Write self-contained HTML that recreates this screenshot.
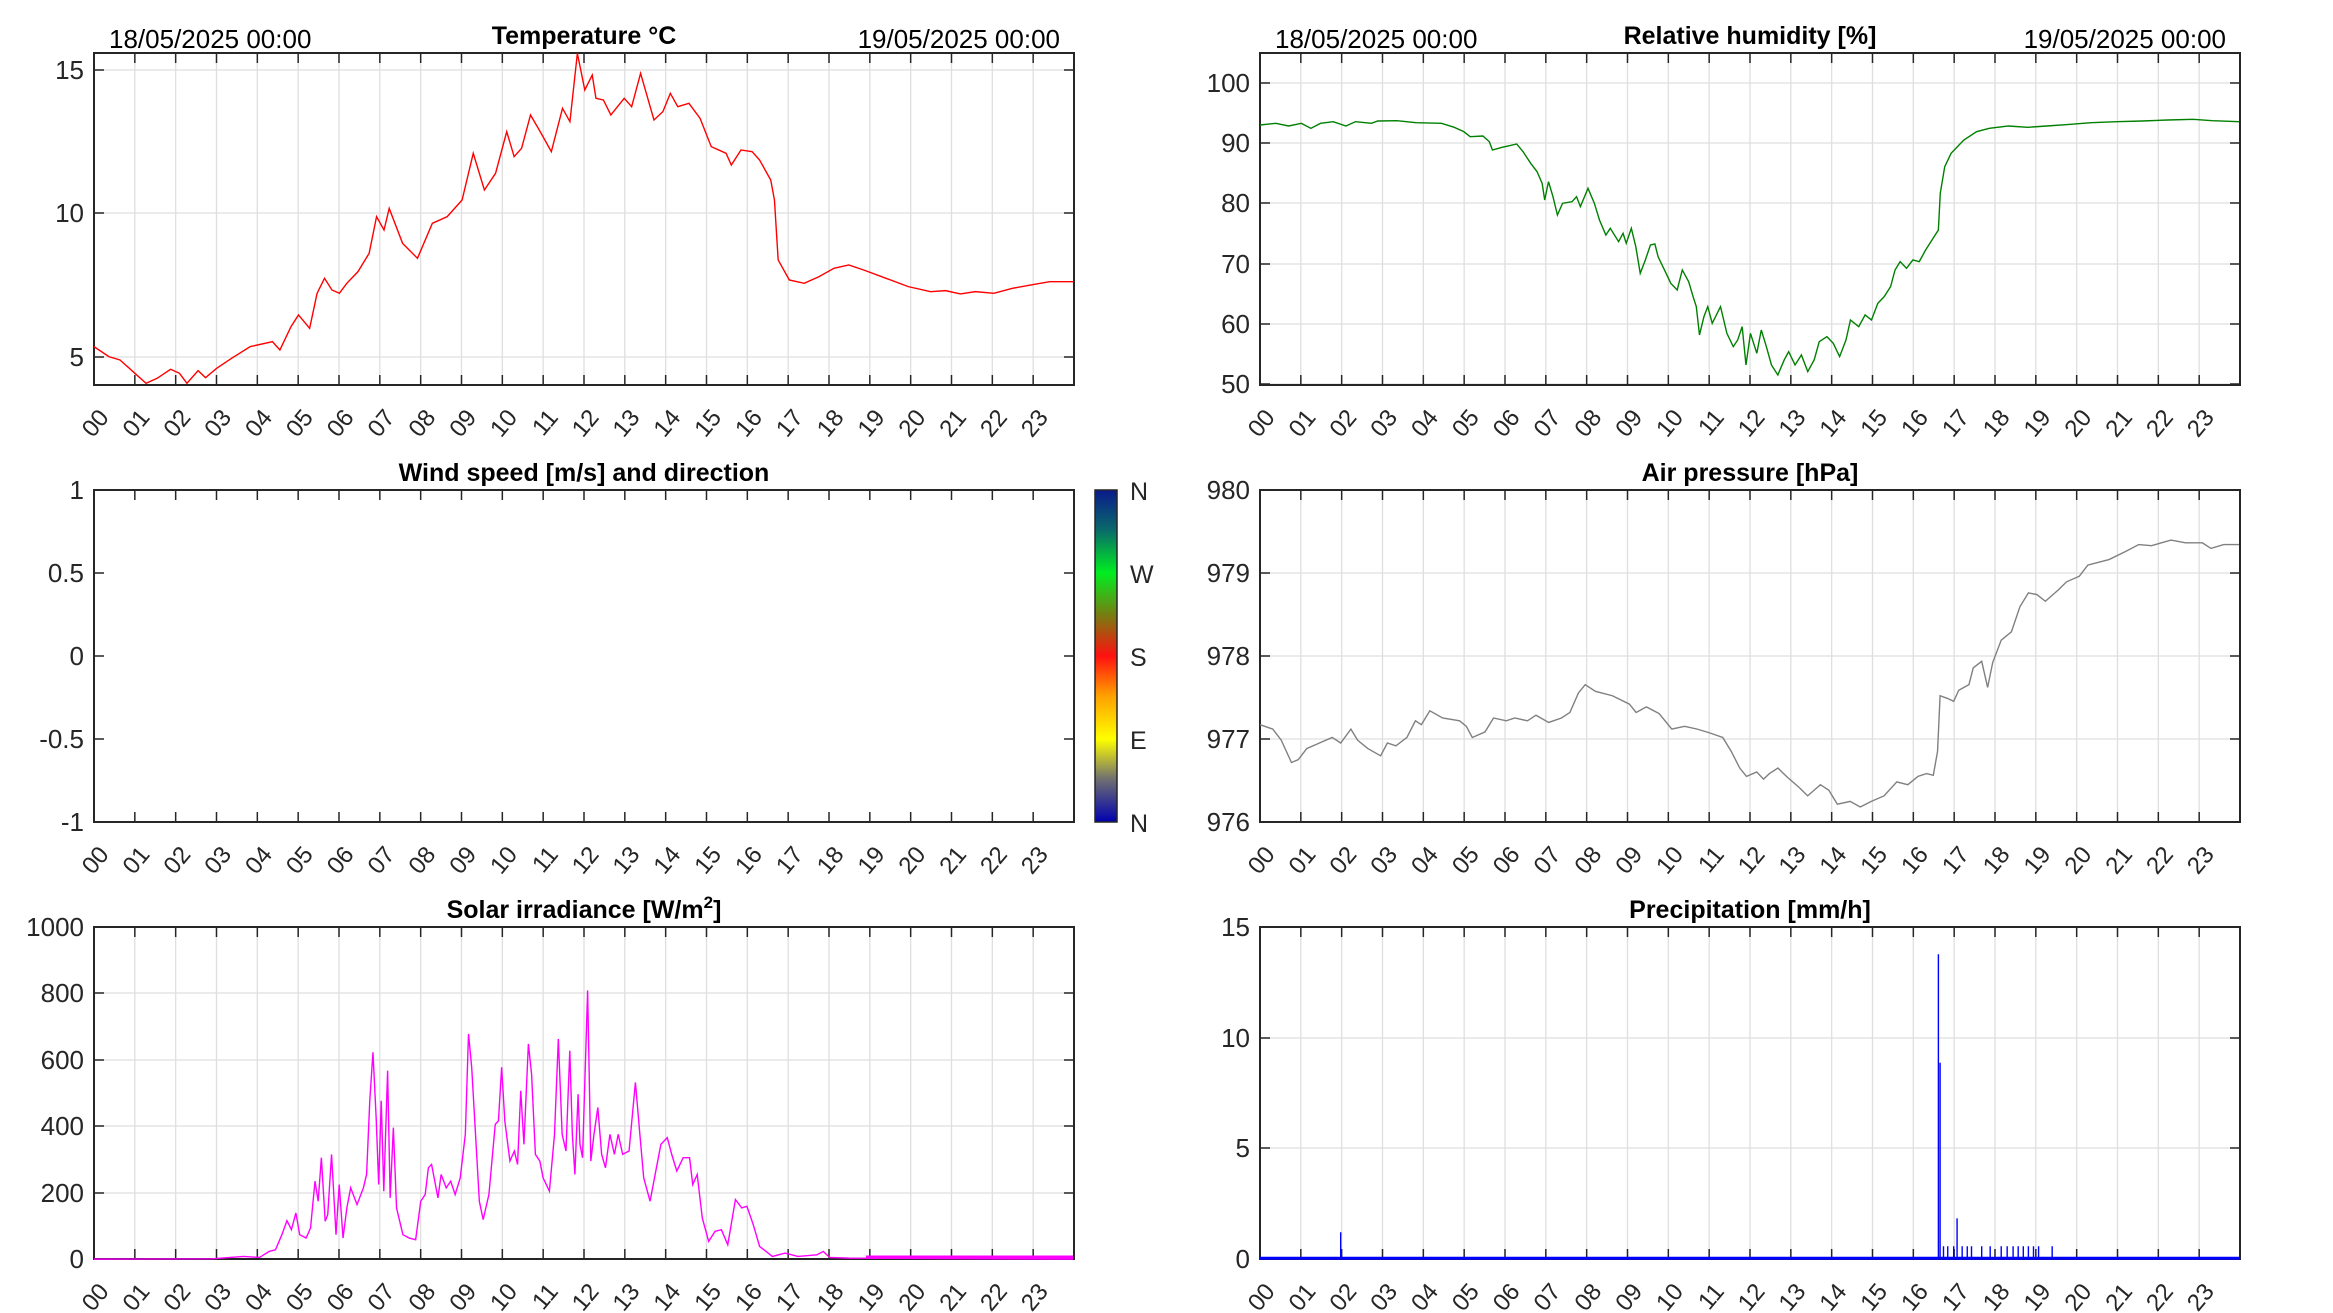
<!DOCTYPE html>
<html><head><meta charset="utf-8"><style>
body{margin:0;background:#fff}
svg{display:block;font-family:"Liberation Sans",Arial,sans-serif}
</style></head><body>
<svg id="s" width="2333" height="1313" viewBox="0 0 2333 1313" xmlns="http://www.w3.org/2000/svg">
<defs>
<linearGradient id="cb" x1="0" y1="0" x2="0" y2="1">
<stop offset="0" stop-color="#0a1a8c"/>
<stop offset="0.12" stop-color="#0a6a6a"/>
<stop offset="0.25" stop-color="#00ee20"/>
<stop offset="0.38" stop-color="#7a7a10"/>
<stop offset="0.5" stop-color="#ff1010"/>
<stop offset="0.62" stop-color="#ffa000"/>
<stop offset="0.75" stop-color="#ffff00"/>
<stop offset="0.87" stop-color="#707070"/>
<stop offset="1" stop-color="#0000b0"/>
</linearGradient>
</defs>
<g id="root"></g>
<g fill="none" stroke-width="1.4">
<polyline vector-effect="non-scaling-stroke" stroke="#ff0000" transform="matrix(0.7437 0 0 0.3333 1 0)" points="125,1040 145,1070 160,1080 180,1120 195,1150 210,1135 228,1108 240,1120 250,1150 265,1112 275,1133 290,1105 310,1075 335,1040 365,1025 375,1050 390,980 400,945 415,985 425,880 435,835 445,870 455,880 465,850 480,815 495,760 505,650 515,690 522,625 540,730 560,775 580,670 600,650 620,600 635,460 650,570 665,520 680,395 690,470 700,445 712,345 725,395 740,455 755,325 765,365 775,160 785,270 795,225 800,295 810,300 820,345 838,295 848,320 860,220 878,360 890,335 900,280 910,320 925,310 940,355 955,440 975,460 982,495 995,450 1010,455 1020,480 1035,540 1040,600 1045,780 1060,840 1080,850 1100,830 1120,805 1140,795 1160,810 1190,835 1220,860 1250,875 1270,872 1290,882 1310,875 1335,880 1360,865 1385,855 1410,845 1442,845"/>
<polyline vector-effect="non-scaling-stroke" stroke="#008000" transform="matrix(0.637 0 0 0.3333 1250.4 40)" points="15,255 40,250 60,258 80,250 95,265 110,250 130,245 150,258 165,245 190,250 200,243 230,242 260,248 300,250 320,262 335,275 345,290 365,288 375,305 380,330 395,322 405,318 418,312 428,335 440,370 450,395 458,430 462,480 468,425 475,470 482,525 490,490 505,485 512,470 518,500 530,445 540,490 548,540 558,585 565,565 578,605 585,580 590,610 598,565 605,620 612,700 620,660 628,615 635,612 640,650 650,690 660,730 670,750 678,690 688,725 695,770 700,800 705,885 712,830 718,800 725,850 738,800 748,880 758,920 765,900 772,860 778,975 785,880 795,940 802,870 810,920 818,975 828,1005 838,960 845,935 855,975 865,945 875,995 885,960 893,905 905,890 915,910 925,950 935,900 942,840 955,860 965,825 975,840 985,790 995,770 1005,740 1012,690 1020,665 1030,685 1040,660 1050,665 1060,630 1070,600 1080,570 1083,460 1090,380 1100,340 1120,300 1140,275 1160,265 1190,258 1220,262 1250,258 1280,254 1320,248 1360,245 1400,243 1440,240 1480,238 1510,242 1552,245"/>
<polyline vector-effect="non-scaling-stroke" stroke="#808080" transform="matrix(0.849 0 0 0.556 1001.1 440)" points="305,512 320,520 330,540 342,580 350,575 360,555 375,545 390,535 400,545 412,520 420,540 432,555 447,568 455,545 465,550 478,535 488,505 495,512 505,487 520,500 540,505 548,515 555,535 570,525 580,500 595,505 605,500 620,505 630,495 645,508 660,500 670,490 680,455 688,440 700,452 720,460 740,475 748,490 760,480 775,492 790,520 805,515 820,520 835,527 850,535 860,560 870,590 878,605 890,597 898,610 905,600 915,590 925,605 940,625 950,640 965,620 975,630 985,655 1000,650 1012,660 1025,650 1040,640 1055,615 1068,620 1080,605 1090,600 1098,603 1103,560 1106,460 1115,465 1122,470 1128,450 1140,440 1145,410 1155,398 1162,445 1168,400 1178,360 1190,345 1200,300 1210,275 1220,278 1230,290 1245,270 1255,255 1270,245 1280,225 1305,215 1325,200 1340,188 1355,190 1378,180 1395,185 1415,185 1425,195 1440,188 1458,188"/>
<polyline vector-effect="non-scaling-stroke" stroke="#ff00ff" transform="matrix(0.637 0 0 0.3347 84.4 900)" points="15,1073 200,1072 250,1065 275,1068 290,1050 300,1045 310,1000 318,958 325,985 332,935 338,1000 348,1010 355,980 362,840 367,900 372,770 378,960 382,940 388,760 395,1000 400,850 406,1010 412,920 418,860 428,910 438,860 443,820 448,600 453,455 458,650 462,850 466,600 470,870 476,510 480,890 485,680 490,920 500,1000 510,1010 520,1015 528,900 535,880 540,800 545,790 550,840 555,890 560,820 568,860 575,840 582,880 590,830 598,700 603,400 608,500 614,700 620,900 626,955 635,880 645,670 650,660 655,500 660,660 668,780 675,750 680,790 685,570 690,730 697,430 702,520 708,760 715,780 720,830 730,870 738,700 744,415 750,700 756,750 762,450 766,700 770,820 775,580 778,730 782,770 790,270 795,780 800,700 806,620 812,760 818,800 825,700 832,760 838,700 845,760 855,750 865,545 872,700 878,830 888,900 895,830 905,730 915,710 922,760 930,810 940,770 950,770 955,850 962,820 970,950 980,1020 990,990 1000,985 1010,1030 1022,895 1032,920 1040,915 1050,970 1060,1035 1080,1065 1100,1055 1120,1065 1150,1060 1160,1050 1170,1068 1200,1070 1552,1073"/>
<line x1="866" y1="1257" x2="1073" y2="1257" stroke="#ff00ff" stroke-width="3"/>
<polyline vector-effect="non-scaling-stroke" stroke="#0000ff" transform="matrix(0.849 0 0 0.556 1001.1 440)" points="305,1473 400,1473 400,1425 400,1473 1104,1473 1104,925 1104,1473 1106,1473 1106,1120 1106,1473 1110,1473 1110,1450 1110,1473 1115,1473 1115,1450 1115,1473 1122,1473 1122,1450 1122,1473 1126,1473 1126,1400 1126,1473 1132,1473 1132,1450 1132,1473 1138,1473 1138,1450 1138,1473 1143,1473 1143,1450 1143,1473 1155,1473 1155,1450 1155,1473 1165,1473 1165,1450 1165,1473 1178,1473 1178,1450 1178,1473 1185,1473 1185,1450 1185,1473 1192,1473 1192,1450 1192,1473 1198,1473 1198,1450 1198,1473 1204,1473 1204,1450 1204,1473 1210,1473 1210,1450 1210,1473 1216,1473 1216,1450 1216,1473 1222,1473 1222,1450 1222,1473 1238,1473 1238,1450 1238,1473 1458,1473"/>
<line x1="1260" y1="1258" x2="2240" y2="1258" stroke="#0000ff" stroke-width="2.5"/>
</g>
<rect x="1095" y="490" width="22" height="332" fill="url(#cb)" stroke="#262626" stroke-width="1.5"/>
<g font-size="25" fill="#262626">
<text x="1130" y="500">N</text><text x="1130" y="583">W</text><text x="1130" y="666">S</text><text x="1130" y="749">E</text><text x="1130" y="832">N</text>
</g>
</svg>
<script>
var NS="http://www.w3.org/2000/svg",root=document.getElementById("root");
function el(t,a,tx){var e=document.createElementNS(NS,t);for(var k in a)e.setAttribute(k,a[k]);if(tx!==undefined)e.textContent=tx;root.appendChild(e);return e;}
function panel(L,T,title,yt,grid,dates){
 var W=980,H=332,R=L+W,B=T+H,hs=W/24;
 if(grid){for(var h=1;h<24;h++)el("line",{x1:L+h*hs,y1:T,x2:L+h*hs,y2:B,stroke:"#dfdfdf","stroke-width":1.3});
  yt.forEach(function(t){el("line",{x1:L,y1:t[1],x2:R,y2:t[1],stroke:"#dfdfdf","stroke-width":1.3});});}
 el("rect",{x:L,y:T,width:W,height:H,fill:"none",stroke:"#262626","stroke-width":2});
 for(var h=0;h<24;h++){var x=L+h*hs;
  if(h>0){el("line",{x1:x,y1:T,x2:x,y2:T+10,stroke:"#262626","stroke-width":1.5});el("line",{x1:x,y1:B,x2:x,y2:B-10,stroke:"#262626","stroke-width":1.5});}
  var lx=x+16,ly=B+33;el("text",{x:lx,y:ly,"text-anchor":"end","font-size":24,fill:"#262626",transform:"rotate(-50 "+lx+" "+ly+")"},(h<10?"0":"")+h);}
 yt.forEach(function(t){el("line",{x1:L,y1:t[1],x2:L+10,y2:t[1],stroke:"#262626","stroke-width":1.5});el("line",{x1:R,y1:t[1],x2:R-10,y2:t[1],stroke:"#262626","stroke-width":1.5});
  el("text",{x:L-10,y:t[1]+9,"text-anchor":"end","font-size":26,fill:"#262626"},t[0]);});
 el("text",{x:L+W/2,y:T-9,"text-anchor":"middle","font-size":25,"font-weight":"bold",fill:"#000"},title);
 if(dates){el("text",{x:L+15,y:T-5,"font-size":26,fill:"#000"},"18/05/2025 00:00");el("text",{x:R-14,y:T-5,"text-anchor":"end","font-size":26,fill:"#000"},"19/05/2025 00:00");}
}
panel(94,53,"Temperature °C",[["15",70],["10",213],["5",357]],true,true);
panel(1260,53,"Relative humidity [%]",[["100",83],["90",143],["80",203],["70",264],["60",324],["50",384]],true,true);
panel(94,490,"Wind speed [m/s] and direction",[["1",490],["0.5",573],["0",656],["-0.5",739],["-1",822]],false,false);
panel(1260,490,"Air pressure [hPa]",[["980",490],["979",573],["978",656],["977",739],["976",822]],true,false);
panel(94,927,"",[["1000",927],["800",993],["600",1060],["400",1126],["200",1193],["0",1259]],true,false);
panel(1260,927,"Precipitation [mm/h]",[["15",927],["10",1038],["5",1148],["0",1259]],true,false);
var t=el("text",{x:584,y:918,"text-anchor":"middle","font-size":25,"font-weight":"bold",fill:"#000"});
t.innerHTML='Solar irradiance [W/m<tspan dy="-10" font-size="17">2</tspan><tspan dy="10">]</tspan>';
var s=document.getElementById("s");var d=s.querySelectorAll("g[fill='none'],rect[fill^='url'],g[font-size='25']");d.forEach(function(n){s.appendChild(n);});
</script>
</body></html>
